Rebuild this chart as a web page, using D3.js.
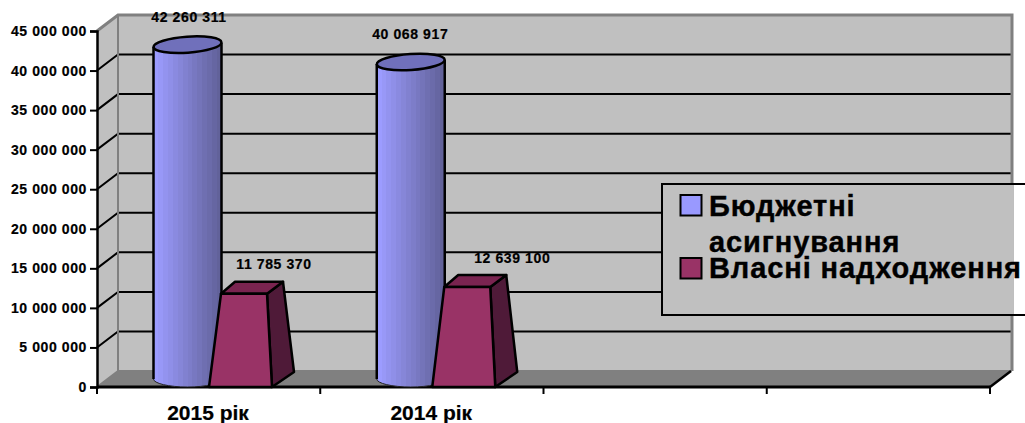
<!DOCTYPE html>
<html><head><meta charset="utf-8">
<script src="https://cdn.jsdelivr.net/npm/d3@7"></script>
<style>html,body{margin:0;padding:0;background:#fff;overflow:hidden}svg{display:block}text{font-family:"Liberation Sans",Arial,sans-serif;font-weight:bold;fill:#000;stroke:#000;stroke-width:.2px}</style>
</head><body><svg id="c" width="1025" height="423"></svg>
<script>
const categories = ["2015 рік", "2014 рік", " ", "  "];
const seriesBudget = [42260311, 40068917];
const seriesOwn = [11785370, 12639100];
const legendBudget = ["Бюджетні", "асигнування"];
const legendOwn = "Власні надходження";
const yTicks = [0,5e6,10e6,15e6,20e6,25e6,30e6,35e6,40e6,45e6];

const labelDxBudget = [92, 90], labelDxOwn = [177, 192];
const depthX = 21, depthY = 16;
const svg = d3.select("#c");
const y = d3.scaleLinear().domain([0,45e6]).range([387,31]);
const x = d3.scaleBand().domain(categories).range([97,990]).paddingInner(0).paddingOuter(0);
const fmt = d3.formatLocale({decimal:".",thousands:" ",grouping:[3],currency:["",""]}).format(",d");
const x0 = x.range()[0], x1 = x.range()[1], y0 = y(0), yT = y(45e6);

// gradient (banded)
const defs = svg.append("defs");
const grad = defs.append("linearGradient").attr("id","cyl");
const N = 14;
d3.range(N).forEach(i=>{
  const c = d3.interpolateRgb("#9c9cff","#62629a")(i/(N-1));
  grad.append("stop").attr("offset",i/N).attr("stop-color",c);
  grad.append("stop").attr("offset",(i+1)/N).attr("stop-color",c);
});

// walls
svg.append("polygon").attr("points",[[x0,yT],[x0+depthX,yT-depthY],[x0+depthX,y0-depthY],[x0,y0]].join(" ")).attr("fill","#c0c0c0");
svg.append("rect").attr("x",x0+depthX).attr("y",yT-depthY).attr("width",x1-x0+1).attr("height",y0-yT).attr("fill","#c0c0c0");
svg.append("polygon").attr("points",[[x0,y0],[x0+depthX,y0-depthY],[x1+depthX+1,y0-depthY],[x1,y0]].join(" ")).attr("fill","#808080");

// gridlines
yTicks.slice(1,-1).forEach(t=>{
  svg.append("path").attr("d",`M${x0},${y(t)}L${x0+depthX},${y(t)-depthY}H${x1+depthX}`)
    .attr("fill","none").attr("stroke","#000").attr("stroke-width",2);
});
// wall frame
svg.append("path").attr("d",`M${x0},${yT}L${x0+depthX},${yT-depthY}H${x1+depthX+1}V${y0-depthY}`)
  .attr("fill","none").attr("stroke","#808080").attr("stroke-width",3);
svg.append("path").attr("d",`M${x0+depthX},${yT-depthY}V${y0-depthY}H${x1+depthX}M${x0},${y0}L${x0+depthX},${y0-depthY}`)
  .attr("fill","none").attr("stroke","#808080").attr("stroke-width",2);
svg.append("path").attr("d",`M${x1},${y0}L${x1+depthX},${y0-depthY}`).attr("fill","none").attr("stroke","#000").attr("stroke-width",2.5);

// y axis
const ax = svg.append("g").attr("transform",`translate(${x0},0)`)
  .call(d3.axisLeft(y).tickValues(yTicks).tickFormat(fmt).tickSize(7).tickPadding(3));
ax.selectAll("line").attr("stroke","#000").attr("stroke-width",2);
ax.select(".domain").attr("stroke","#000").attr("stroke-width",2.5);
ax.selectAll("text").attr("font-size",14).attr("font-family",null).attr("letter-spacing","0.6px");

// x axis
const xa = svg.append("g").attr("transform",`translate(0,${y0})`);
xa.append("line").attr("x1",x0).attr("x2",x1).attr("stroke","#000").attr("stroke-width",3);
[...categories.map(c=>x(c)),x1].forEach(p=>xa.append("line").attr("x1",p).attr("x2",p).attr("y1",0).attr("y2",7).attr("stroke","#000").attr("stroke-width",2));
categories.forEach(c=>{
  xa.append("text").attr("x",x(c)+111).attr("y",33).attr("text-anchor","middle").attr("font-size",21).text(c);
});

// cylinders
const cats2 = categories.slice(0,2);
cats2.forEach((c,i)=>{
  const L = x(c)+56.5, R = L+68, cx=(L+R)/2, rx=34, ry=8, base=y0-8;
  const top = y(seriesBudget[i]) - 8;
  svg.append("path").attr("d",`M${L},${top+2}L${L},${base}A${rx},${ry} 0 0 0 ${R},${base}L${R},${top-2}Z`).attr("fill","url(#cyl)");
  svg.append("path").attr("d",`M${L},${top+2}L${L},${base}M${R},${base}L${R},${top-2}`).attr("fill","none").attr("stroke","#000").attr("stroke-width",2.5);
  svg.append("path").attr("d",`M${L},${base}A${rx},${ry} 0 0 0 ${R},${base}`).attr("fill","none").attr("stroke","#222").attr("stroke-width",1);
  svg.append("ellipse").attr("cx",cx).attr("cy",top).attr("rx",rx).attr("ry",ry)
    .attr("transform",`rotate(-4 ${cx} ${top})`)
    .attr("fill","#7070bb").attr("stroke","#000").attr("stroke-width",2.5);
});

// trapezoids
cats2.forEach((c,i)=>{
  const b = x(c), t = y(seriesOwn[i]);
  const poly = (pts,fill)=>svg.append("polygon").attr("points",pts.map(p=>p.join(",")).join(" "))
    .attr("fill",fill).attr("stroke","#000").attr("stroke-width",2.5).attr("stroke-linejoin","round");
  poly([[b+170,t],[b+186,t-12],[b+197,y0-15],[b+175,y0]],"#4f1a38");
  poly([[b+124,t],[b+138,t-12],[b+186,t-12],[b+170,t]],"#7a2450");
  poly([[b+112,y0],[b+124,t],[b+170,t],[b+175,y0]],"#993366");
});

// value labels
const lab = (px,py,s)=>svg.append("text").attr("x",px).attr("y",py).attr("text-anchor","middle").attr("font-size",14).attr("letter-spacing","0.6px").text(fmt(s));
cats2.forEach((c,i)=>{
  lab(x(c)+labelDxBudget[i], y(seriesBudget[i])-31, seriesBudget[i]);
  lab(x(c)+labelDxOwn[i], y(seriesOwn[i])-24.5, seriesOwn[i]);
});

// legend
const lg = svg.append("g");
lg.append("rect").attr("x",662).attr("y",184).attr("width",351).attr("height",131).attr("fill","#c0c0c0");
lg.append("path").attr("d","M1025,184H662V315H1025").attr("fill","none").attr("stroke","#000").attr("stroke-width",2);
[[195,"#9999ff"],[258,"#993366"]].forEach(([py,f])=>lg.append("rect").attr("x",680.5).attr("y",py).attr("width",21).attr("height",20.5).attr("fill",f).attr("stroke","#000").attr("stroke-width",2));
const lt = (py,s)=>lg.append("text").attr("x",709).attr("y",py).attr("font-size",29).attr("letter-spacing","0.9px").style("stroke-width","0.4px").text(s);
lt(216,legendBudget[0]); lt(252,legendBudget[1]); lt(278,legendOwn);
</script></body></html>
